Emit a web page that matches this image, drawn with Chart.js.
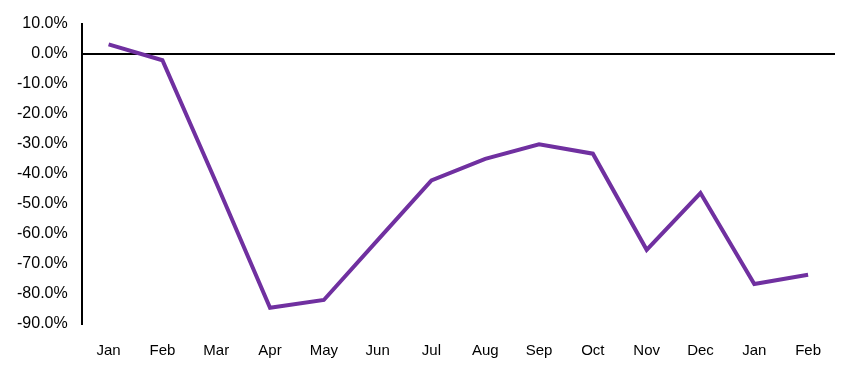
<!DOCTYPE html>
<html>
<head>
<meta charset="utf-8">
<script src="https://cdn.jsdelivr.net/npm/chart.js@4"></script>
<style>
  html, body { margin: 0; padding: 0; background: #fff; }
</style>
</head>
<body>
<canvas id="lineChart" width="856" height="374"></canvas>
<script>
var months = ["Jan", "Feb", "Mar", "Apr", "May", "Jun", "Jul", "Aug", "Sep", "Oct", "Nov", "Dec", "Jan", "Feb"];
var changePct = [3.1, -2.2, -43.0, -84.6, -82.0, -62.1, -42.2, -35.0, -30.2, -33.3, -65.3, -46.4, -76.7, -73.6];
var yTicks = [10, 0, -10, -20, -30, -40, -50, -60, -70, -80, -90];

new Chart(document.getElementById("lineChart"), {
    type: 'line',
    data: {
        labels: months,
        datasets: [{
            data: changePct,
            borderColor: "#7030A0",
            borderWidth: 4,
            pointRadius: 0,
            tension: 0,
            fill: false
        }]
    },
    options: {
        responsive: false,
        animation: { duration: 0 },
        layout: {
            padding: { left: 3, right: 21, top: 13, bottom: 4 }
        },
        plugins: {
            legend: { display: false },
            tooltip: { enabled: false }
        },
        scales: {
            x: {
                offset: true,
                grid: { display: false },
                border: { display: false },
                ticks: {
                    color: "#000",
                    font: { family: "Liberation Sans", size: 15 },
                    padding: 10,
                    maxRotation: 0
                }
            },
            y: {
                min: -90,
                max: 10,
                afterBuildTicks: function (axis) {
                    axis.ticks = yTicks.map(function (v) { return { value: v }; });
                },
                grid: {
                    drawTicks: false,
                    color: function (ctx) {
                        return ctx.tick && ctx.tick.value === 0 ? "#000" : "rgba(0,0,0,0)";
                    },
                    lineWidth: 2
                },
                border: { display: true, color: "#000", width: 2 },
                ticks: {
                    color: "#000",
                    font: { family: "Liberation Sans", size: 16 },
                    padding: 14,
                    callback: function (v) { return v.toFixed(1) + "%"; }
                }
            }
        }
    }
});
</script>
</body>
</html>
